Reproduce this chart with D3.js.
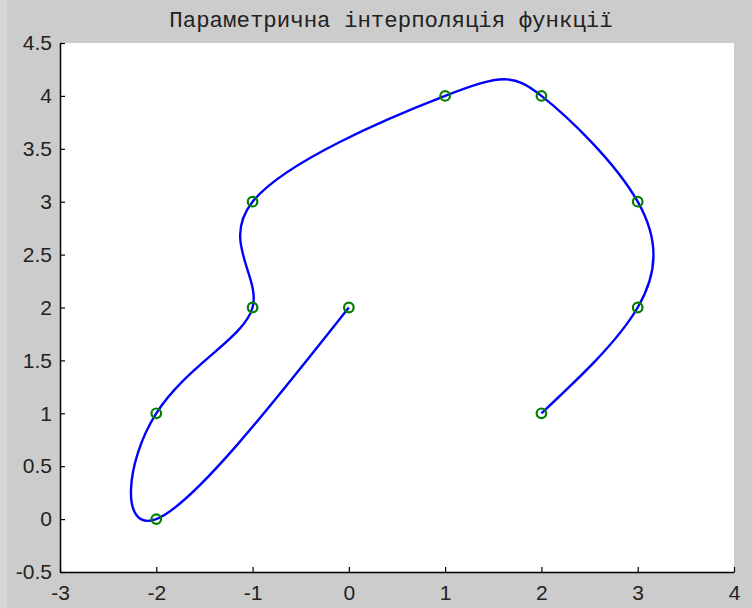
<!DOCTYPE html>
<html><head><meta charset="utf-8">
<script src="https://cdn.jsdelivr.net/npm/d3@7"></script>
<style>html,body{margin:0;padding:0;background:#cccccc;}svg{display:block;}</style>
</head><body>
<script>
const xs = [0, -2, -2, -1, -1, 1, 2, 3, 3, 2];
const ys = [2, 0, 1, 2, 3, 4, 4, 3, 2, 1];
const xTicks = [-3, -2, -1, 0, 1, 2, 3, 4];
const yTicks = [-0.5, 0, 0.5, 1, 1.5, 2, 2.5, 3, 3.5, 4, 4.5];
const title = "Параметрична інтерполяція функції";

const W = 752, H = 608;
const m = {l: 60, r: 734, t: 43, b: 572};
const svg = d3.select("body").append("svg").attr("width", W).attr("height", H);
svg.append("rect").attr("width", W).attr("height", H).attr("fill", "#cccccc");
svg.append("rect").attr("width", 7).attr("height", H).attr("fill", "#d6d6d6");

const x = d3.scaleLinear().domain([-3, 4]).range([m.l, m.r]);
const y = d3.scaleLinear().domain([-0.5, 4.5]).range([m.b, m.t]);

svg.append("rect").attr("x", m.l).attr("y", m.t).attr("width", m.r - m.l).attr("height", m.b - m.t).attr("fill", "#fff");

const pts = xs.map((v, i) => [v, ys[i]]);
svg.append("path").datum(pts)
  .attr("d", d3.line().x(d => x(d[0])).y(d => y(d[1])).curve(d3.curveNatural))
  .attr("fill", "none").attr("stroke", "#0000ff").attr("stroke-width", 2.4);

svg.selectAll("circle.pt").data(pts).enter().append("circle")
  .attr("cx", d => x(d[0])).attr("cy", d => y(d[1])).attr("r", 4.8)
  .attr("fill", "none").attr("stroke", "#008000").attr("stroke-width", 2.2);

const xAxis = d3.axisBottom(x).tickValues(xTicks).tickSizeInner(-5).tickSizeOuter(0).tickPadding(13).tickFormat(d => String(d));
const gx = svg.append("g").attr("transform", `translate(0,${m.b})`).call(xAxis);
const yAxis = d3.axisLeft(y).tickValues(yTicks).tickSizeInner(-5).tickSizeOuter(0).tickPadding(8).tickFormat(d => String(d));
const gy = svg.append("g").attr("transform", `translate(${m.l},0)`).call(yAxis);
[gx, gy].forEach(g => {
  g.select(".domain").attr("stroke", "#000").attr("stroke-width", 1.5);
  g.selectAll(".tick line").attr("stroke", "#000").attr("stroke-width", 1.2);
  g.selectAll("text").attr("font-family", "Liberation Sans, Arial, sans-serif").attr("font-size", 21).attr("fill", "#222");
});
gx.selectAll("text").attr("dy", "0.71em");

svg.append("text").attr("x", 391).attr("y", 27).attr("text-anchor", "middle")
  .attr("font-family", "Liberation Mono, Courier New, monospace").attr("font-size", 22.4)
  .attr("fill", "#222").text(title);
</script>
</body></html>
